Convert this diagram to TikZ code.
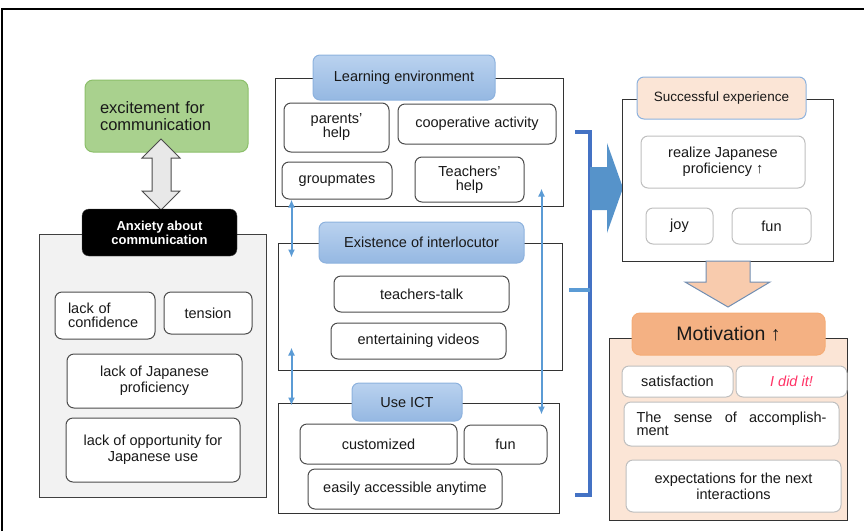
\documentclass[tikz,border=0pt]{standalone}
\usepackage{fontspec}
\setmainfont{Liberation Sans}
\usetikzlibrary{arrows.meta}

\definecolor{greenfill}{HTML}{A9D18E}
\definecolor{greenline}{HTML}{8CBF6A}
\definecolor{grayfill}{HTML}{F2F2F2}
\definecolor{headtop}{HTML}{BAD2EF}
\definecolor{headbot}{HTML}{95B8E2}
\definecolor{headline}{HTML}{8DB2DE}
\definecolor{linkblue}{HTML}{5B9BD5}
\definecolor{bracketblue}{HTML}{4472C4}
\definecolor{peach}{HTML}{FBE5D6}
\definecolor{peachdark}{HTML}{F4B183}
\definecolor{peacharrow}{HTML}{F8CBAD}
\definecolor{didred}{HTML}{FF3366}

\tikzset{
  txt/.style={font=\fontsize{14.5}{16}\selectfont, text=black!90},
  panel/.style={draw=black!80, line width=1pt, fill=white},
  item/.style={txt, draw=black!70, line width=1pt, rounded corners=7pt, fill=white, align=center, inner sep=2pt},
  softitem/.style={item, draw=black!25},
  bluehead/.style={txt, draw=headline, line width=1pt, rounded corners=7pt, top color=headtop, bottom color=headbot},
  link/.style={linkblue, line width=2pt, {Latex[length=8pt,width=7pt]}-{Latex[length=8pt,width=7pt]}},
}

\begin{document}
\begin{tikzpicture}[x=1pt, y=-1pt]
        \useasboundingbox (0,0) rectangle (864,531);
        % Frame
        \draw[line width=2pt] (2,531) -- (2,9) -- (864,9);

        % Anxiety column
        \node[txt, fill=greenfill, draw=greenline, line width=1pt, rounded corners=8pt, align=left, text width=133pt,
              minimum width=163pt, minimum height=72pt, font=\fontsize{16.5}{17}\selectfont] (excite) at (166.5,116)
              {excitement for\\communication};
        \filldraw[fill=black!9, draw=black!70, line width=1pt]
            (161,139) -- (180,158) -- (171,158) -- (171,191) -- (180,191) -- (161,210)
            -- (142,191) -- (152,191) -- (152,158) -- (142,158) -- cycle;
        \node[panel, fill=grayfill, draw=black!75, minimum width=227pt, minimum height=263pt] (anxpanel) at (152.5,365.5) {};
        \node[fill=black, draw=black!70, rounded corners=7pt, text=white, align=center, inner sep=1pt,
              minimum width=155pt, minimum height=47pt, font=\bfseries\fontsize{13}{14}\selectfont] (anxiety) at (159.5,232.5)
              {Anxiety about\\communication};
        \node[item, align=left, text width=74pt, minimum width=100pt, minimum height=47pt, font=\fontsize{14.5}{14}\selectfont] (conf) at (105,315.5) {lack of\\confidence};
        \node[item, minimum width=88pt, minimum height=42pt] (tension) at (208,313) {tension};
        \node[item, minimum width=175pt, minimum height=54pt] (prof) at (154.5,381) {lack of Japanese\\proficiency};
        \node[item, minimum width=174pt, minimum height=64pt] (opp) at (153,450) {lack of opportunity for\\Japanese use};

        % Learning environment
        \node[panel, minimum width=288pt, minimum height=128pt] (lenv) at (419,142) {};
        \node[bluehead, minimum width=182pt, minimum height=45pt] (lenvhead) at (404,77.5) {Learning environment};
        \node[item, minimum width=105pt, minimum height=49pt, font=\fontsize{14.5}{14}\selectfont] (parents) at (336.5,127.5) {parents'\\help};
        \node[item, minimum width=158pt, minimum height=40pt] (coop) at (477,124) {cooperative activity};
        \node[item, minimum width=110pt, minimum height=37pt] (group) at (337,180.5) {groupmates};
        \node[item, minimum width=109pt, minimum height=45pt, font=\fontsize{14.5}{14}\selectfont] (teach) at (469.5,179.5) {Teachers'\\help};

        % Existence of interlocutor
        \node[panel, minimum width=284pt, minimum height=127pt] (eoi) at (420,306.5) {};
        \node[bluehead, minimum width=205pt, minimum height=41pt] (eoihead) at (421.5,242.5) {Existence of interlocutor};
        \node[item, minimum width=175pt, minimum height=36pt] (talk) at (421.5,294) {teachers-talk};
        \node[item, minimum width=175pt, minimum height=36pt] (videos) at (418.5,341) {entertaining videos};

        % Use ICT
        \node[panel, minimum width=281pt, minimum height=110pt] (ict) at (418.5,458) {};
        \node[bluehead, minimum width=110pt, minimum height=38pt] (icthead) at (407,402) {Use ICT};
        \node[item, minimum width=157pt, minimum height=40pt] (custom) at (378.5,444) {customized};
        \node[item, minimum width=83pt, minimum height=39pt] (ictfun) at (505.5,444.5) {fun};
        \node[item, minimum width=194pt, minimum height=40pt] (easy) at (405,489) {easily accessible anytime};

        %% links
        \draw[link] ([xshift=10pt]group.south west) -- ([xshift=14pt,yshift=-15pt]eoi.north west);
        \draw[link] ([xshift=14pt,yshift=23pt]eoi.south west) -- ([xshift=14pt,yshift=-3pt]ict.north west);
        \draw[link] ([xshift=-22pt,yshift=18pt]lenv.south east) -- ([xshift=-18pt,yshift=-12pt]ict.north east);

        % Bracket and arrow
        \draw[bracketblue, line width=3.5pt] (575,132) -- (590,132) -- (590,495) -- (575,495);
        \draw[linkblue, line width=3.5pt] (569,290) -- (590,290);
        \fill[linkblue!95!black] (590,167) -- (607,167) -- (607,143) -- (623,188) -- (607,233) -- (607,210) -- (590,210) -- cycle;

        % Successful experience
        \node[panel, minimum width=211pt, minimum height=162pt] (succ) at (727.5,180) {};
        \node[txt, fill=peach, draw=headline, line width=1pt, rounded corners=7pt, minimum width=169pt, minimum height=42pt,
              font=\fontsize{13.5}{15}\selectfont] (succhead) at (721.5,98) {Successful experience};
        \node[softitem, minimum width=164pt, minimum height=52pt] (realize) at (723,162) {realize Japanese\\proficiency ↑};
        \node[softitem, minimum width=67pt, minimum height=36pt] (joy) at (679.5,226) {joy};
        \node[softitem, minimum width=79pt, minimum height=36pt] (succfun) at (771.5,226) {fun};

        \filldraw[fill=peacharrow, draw=headline!80!black, line width=1pt]
            (706,261) -- (750,261) -- (750,282) -- (770,282) -- (728,307) -- (685,282) -- (706,282) -- cycle;

        % Motivation
        \node[panel, fill=peach, minimum width=238pt, minimum height=182pt] (motiv) at (728,429) {};
        \node[txt, fill=peachdark, draw=peachdark!90!orange, line width=1pt, rounded corners=8pt, minimum width=193pt, minimum height=42pt,
              font=\fontsize{19.5}{21}\selectfont] (motivhead) at (728.5,334) {Motivation ↑};
        \node[softitem, minimum width=111pt, minimum height=31pt] (satis) at (677.5,381.5) {satisfaction};
        \node[softitem, minimum width=111pt, minimum height=31pt, text=didred, font=\itshape\fontsize{14.5}{16}\selectfont] (did) at (791.5,381.5) {I did it!};
        \node[softitem, align=left, minimum width=215pt, minimum height=44pt, font=\fontsize{14.5}{13}\selectfont] (sense) at (731.5,424)
              {\makebox[190pt][s]{The sense of accomplish-}\\ment};
        \node[softitem, minimum width=215pt, minimum height=52pt] (expect) at (733.5,486) {expectations for the next\\interactions};
\end{tikzpicture}
\end{document}
